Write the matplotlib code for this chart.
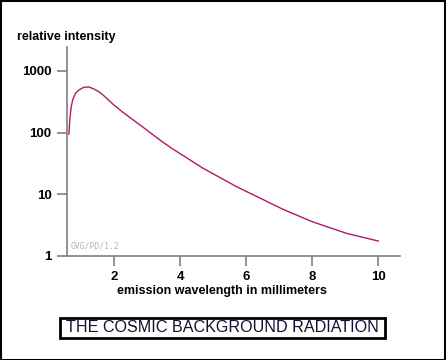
import matplotlib
matplotlib.use("Agg")
import matplotlib.pyplot as plt
from matplotlib.patches import Rectangle

wavelength_mm = [0.627, 0.658, 0.697, 0.748, 0.830, 0.930, 1.082, 1.233, 1.385, 1.536,
                 1.688, 1.991, 2.264, 2.879, 3.385, 3.739, 4.697, 5.709, 7.12, 8.0,
                 9.04, 10.0]
intensity = [94, 171, 264, 348, 435, 492, 545, 551, 511, 461,
             397, 281, 214, 122, 76, 56, 26.4, 13.3, 5.7, 3.6,
             2.33, 1.75]
y_ticks = [1, 10, 100, 1000]
y_tick_labels = ["1", "10", "100", "1000"]
x_ticks = [2, 4, 6, 8, 10]

W, H = 446, 360
fig = plt.figure(figsize=(W / 100, H / 100), dpi=100)
ax = fig.add_axes([67 / W, 1 - 256 / H, (400 - 67) / W, (256 - 47) / H])

ax.plot(wavelength_mm, intensity, color="#b3176b", linewidth=1.0)
ax.set_yscale("log")
ax.set_xlim(0.57, 10.66)
ax.set_ylim(1, 2450)
ax.minorticks_off()
ax.set_yticks(y_ticks)
ax.set_yticklabels(y_tick_labels)
ax.set_xticks(x_ticks)

for s in ["top", "right"]:
    ax.spines[s].set_visible(False)
for s in ["left", "bottom"]:
    ax.spines[s].set_color("#808080")
    ax.spines[s].set_linewidth(1.2)
ax.tick_params(axis="both", colors="#808080", length=7, width=1.2, direction="out",
               labelcolor="black", labelsize=9.5, pad=4)
for lab in ax.get_xticklabels() + ax.get_yticklabels():
    lab.set_fontweight("bold")
    lab.set_family("Liberation Sans")

fig.text(17 / W, 1 - 37 / H, "relative intensity", fontsize=9, fontweight="bold",
         family="Liberation Sans", ha="left", va="center")
fig.text(222 / W, 1 - 291 / H, "emission wavelength in millimeters", fontsize=9,
         fontweight="bold", family="Liberation Sans", ha="center", va="center")
ax.text(0.01, 0.025, "GVG/PD/1.2", transform=ax.transAxes, fontsize=5.8,
        family="DejaVu Sans Mono", color="#b0b0b0", ha="left", va="bottom")

# title box
fig.patches.append(Rectangle((60 / W, 1 - 338 / H), (385 - 60) / W, 20 / H,
                             transform=fig.transFigure, fill=False,
                             edgecolor="black", linewidth=2))
fig.text(222.5 / W, 1 - 328 / H, "THE COSMIC BACKGROUND RADIATION", fontsize=11.6,
         family="Liberation Sans", color="#101030", ha="center", va="center")

# outer frame
fig.patches.append(Rectangle((0.5 / W, 0.5 / H), (W - 1.5) / W, (H - 1.5) / H,
                             transform=fig.transFigure, fill=False,
                             edgecolor="black", linewidth=1.5))

fig.savefig("out.png", dpi=100)
